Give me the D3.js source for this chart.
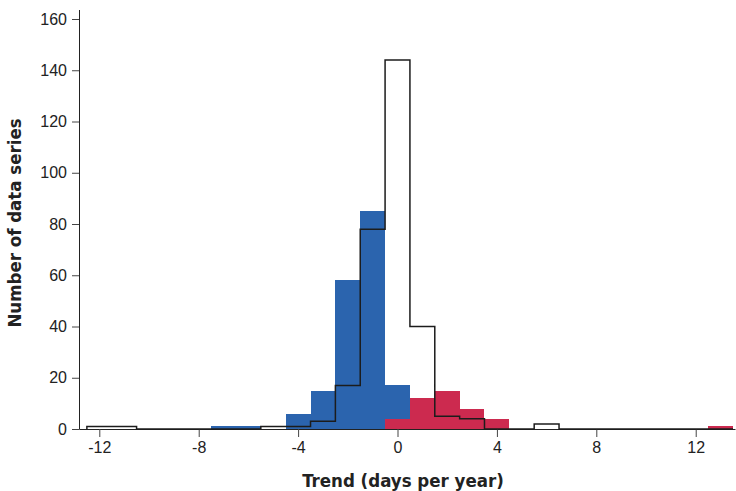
<!DOCTYPE html>
<html>
<head>
<meta charset="utf-8">
<script src="https://cdn.jsdelivr.net/npm/d3@7"></script>
<style>
body { margin: 0; background: #fff; }
svg { display: block; font-family: Tahoma, "DejaVu Sans Condensed", "Liberation Sans", sans-serif; }
</style>
</head>
<body>
<div id="chart"></div>
<script>
// bin centres (days per year), one bin per unit
var binCenters = [-12, -11, -10, -9, -8, -7, -6, -5, -4, -3, -2, -1, 0, 1, 2, 3, 4, 5, 6, 7, 8, 9, 10, 11, 12, 13];
// significant negative trend (blue)
var decreasing = [0, 0, 0, 0, 0, 1, 1, 0, 6, 15, 58, 85, 17, 0, 0, 0, 0, 0, 0, 0, 0, 0, 0, 0, 0, 0];
// significant positive trend (red)
var increasing = [0, 0, 0, 0, 0, 0, 0, 0, 0, 0, 0, 0, 4, 12, 15, 8, 4, 0, 0, 0, 0, 0, 0, 0, 0, 1];
// all series, drawn as outline
var allSeries = [1, 1, 0, 0, 0, 0, 0, 1, 1, 3, 17, 78, 144, 40, 5, 4, 0, 0, 2, 0, 0, 0, 0, 0, 0, 0];
var xTicks = [-12, -8, -4, 0, 4, 8, 12];
var yTicks = [0, 20, 40, 60, 80, 100, 120, 140, 160];

var width = 736, height = 491;

var svg = d3.select("#chart").append("svg")
    .attr("width", width)
    .attr("height", height);

var x = d3.scaleLinear()
    .domain([-12.817, 13.581])
    .range([79, 735]);

var y = d3.scaleLinear()
    .domain([0, 160])
    .range([429, 19]);

// axes
var xAxis = svg.append("g")
    .attr("transform", "translate(0," + y(0) + ")")
    .call(d3.axisBottom(x).tickValues(xTicks).tickSize(8).tickSizeOuter(0).tickPadding(5)
        .tickFormat(function(d) { return String(d); }));
xAxis.select(".domain").attr("stroke", "#222");
xAxis.selectAll(".tick line").attr("stroke", "#444");
xAxis.selectAll("text").attr("font-size", 16).attr("fill", "#222").attr("font-family", null);

var yAxis = svg.append("g")
    .attr("transform", "translate(" + x.range()[0] + ",0)")
    .call(d3.axisLeft(y).tickValues(yTicks).tickSize(7).tickSizeOuter(0).tickPadding(5));
yAxis.select(".domain").attr("stroke", "#222").attr("d", "M0.5,10V" + (y(0) + 0.5));
yAxis.selectAll(".tick line").attr("stroke", "#444");
yAxis.selectAll("text").attr("font-size", 16).attr("fill", "#222").attr("font-family", null);

function bars(values, color) {
    var rows = binCenters.map(function(c, i) { return {c: c, v: values[i]}; })
        .filter(function(d) { return d.v > 0; });
    svg.append("g")
        .attr("fill", color)
        .attr("shape-rendering", "crispEdges")
      .selectAll("rect")
      .data(rows)
      .enter().append("rect")
        .attr("x", function(d) { return x(d.c - 0.5); })
        .attr("width", function(d) { return x(d.c + 0.5) - x(d.c - 0.5); })
        .attr("y", function(d) { return y(d.v); })
        .attr("height", function(d) { return y(0) - y(d.v); });
}

bars(decreasing, "#2b64ae");
bars(increasing, "#cc2a4f");

// outline histogram as a step line
var pts = [[binCenters[0] - 0.5, 0]];
binCenters.forEach(function(c, i) {
    pts.push([c - 0.5, allSeries[i]]);
    pts.push([c + 0.5, allSeries[i]]);
});
pts.push([binCenters[binCenters.length - 1] + 0.5, 0]);

svg.append("path")
    .datum(pts)
    .attr("fill", "none")
    .attr("stroke", "#1c1c1c")
    .attr("stroke-width", 1.5)
    .attr("d", d3.line()
        .x(function(d) { return x(d[0]); })
        .y(function(d) { return y(d[1]); }));

// axis titles
svg.append("text")
    .attr("x", 403)
    .attr("y", 487)
    .attr("text-anchor", "middle")
    .attr("font-size", 18.5)
    .attr("font-weight", "bold")
    .attr("fill", "#222")
    .text("Trend (days per year)");

svg.append("text")
    .attr("transform", "translate(21,223) rotate(-90)")
    .attr("text-anchor", "middle")
    .attr("font-size", 18.5)
    .attr("font-weight", "bold")
    .attr("fill", "#222")
    .text("Number of data series");
</script>
</body>
</html>
